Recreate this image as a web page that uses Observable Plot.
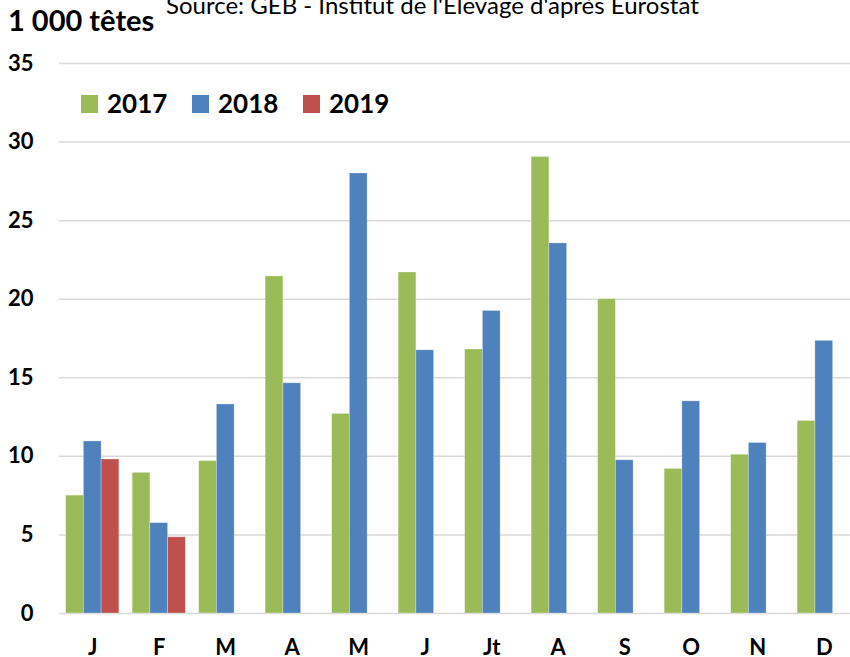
<!DOCTYPE html>
<html><head><meta charset="utf-8">
<script src="https://cdn.jsdelivr.net/npm/d3@7"></script>
<script src="https://cdn.jsdelivr.net/npm/@observablehq/plot@0.6"></script>
<style>
body{margin:0;background:#fff;}
#wrap{position:relative;width:850px;height:657px;overflow:hidden;}
#wrap svg{position:absolute;left:0;top:0;max-width:none;}
</style></head>
<body><div id="wrap"></div>
<script>
const monthLabels = ["J","F","M","A","M","J","Jt","A","S","O","N","D"];
const years = ["2017","2018","2019"];
const colors = ["#9BBB59","#4F81BD","#C0504D"];
const v2017 = [7.5, 8.95, 9.7, 21.45, 12.7, 21.7, 16.8, 29.05, 20.0, 9.2, 10.1, 12.25];
const v2018 = [10.95, 5.75, 13.3, 14.65, 28.0, 16.75, 19.25, 23.55, 9.75, 13.5, 10.85, 17.35];
const v2019 = [9.8, 4.85];
const yTicks = [0,5,10,15,20,25,30,35];
const unitLabel = "1 000 têtes";
const sourceText = "Source: GEB - Institut de l'Elevage d'après Eurostat";

const series = [v2017, v2018, v2019].map((arr, k) => arr.map((v, i) => ({m: i, year: years[k], value: v})));

const W = 850, H = 657, ML = 59, MR = 0, MT = 63, MB = 44;
// the original chart is cropped at the right: the band range runs a little past the frame
const xOpts = {type: "band", domain: d3.range(12), range: [ML, W + 7], paddingInner: 0.2, paddingOuter: 0.1, align: 0.5, round: false};
const bw = Plot.scale({x: xOpts}).bandwidth;
const n = years.length;

const chart = Plot.plot({
  width: W, height: H,
  marginLeft: ML, marginRight: MR, marginTop: MT, marginBottom: MB,
  style: {fontFamily: "Lato", fontSize: "22px", fontWeight: "bold", color: "#000", background: "transparent"},
  x: {...xOpts, axis: "bottom", tickSize: 0, tickPadding: 26, tickFormat: i => monthLabels[i], label: null},
  y: {domain: [0, 35], ticks: yTicks, tickSize: 0, tickPadding: 26, label: null},
  color: {domain: years, range: colors},
  marks: [
    Plot.ruleY(yTicks, {stroke: "#d9d9d9", strokeWidth: 1.5}),
    ...series.map((d, k) => Plot.barY(d, {
      x: "m", y: "value", fill: "year",
      insetLeft: k * bw / n, insetRight: (n - 1 - k) * bw / n,
      stroke: "#ffffff", strokeOpacity: 0.35, strokeWidth: 0.8
    }))
  ]
});
document.getElementById("wrap").appendChild(chart);

// overlay: title, source, legend
const ov = d3.select("#wrap").append("svg").attr("width", W).attr("height", H)
  .style("font-family", "Lato").style("pointer-events", "none");
ov.append("text").attr("x", 8).attr("y", 31).attr("font-size", 29).attr("font-weight", "bold").text(unitLabel);
ov.append("text").attr("x", 166).attr("y", 14).attr("font-size", 24).text(sourceText);
const lg = ov.append("g");
years.forEach((yr, k) => {
  const x0 = 81 + k * 111;
  lg.append("rect").attr("x", x0).attr("y", 95).attr("width", 17).attr("height", 18).attr("fill", colors[k]);
  lg.append("text").attr("x", x0 + 26).attr("y", 113).attr("font-size", 26).attr("font-weight", "bold").text(yr);
});
</script></body></html>
